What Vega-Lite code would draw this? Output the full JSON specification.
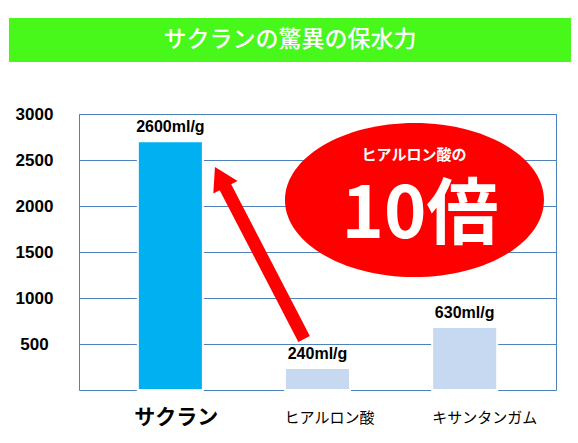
{
  "$schema": "https://vega.github.io/schema/vega-lite/v6.json",
  "background": "white",
  "padding": {"left": 8, "top": 18, "right": 8, "bottom": 0},
  "spacing": 42,
  "config": {"view": {"stroke": null}, "font": "Noto Sans CJK JP"},
  "vconcat": [
    {
      "width": 477,
      "height": 44,
      "layer": [
        {
          "data": {"values": [{"band": "title"}]},
          "mark": {"type": "rect", "color": "#47f81a", "clip": false},
          "encoding": {
            "x": {"datum": -0.1468, "type": "quantitative", "scale": {"domain": [0, 1], "nice": false, "zero": false}, "axis": null},
            "x2": {"datum": 1.0314},
            "y": {"datum": 0, "type": "quantitative", "scale": {"domain": [0, 1], "nice": false}, "axis": null},
            "y2": {"datum": 1}
          }
        },
        {
          "data": {"values": [{"title": "サクランの驚異の保水力"}]},
          "mark": {"type": "text", "color": "white", "fontSize": 23, "fontWeight": 500, "font": "Noto Sans CJK JP", "baseline": "middle", "align": "center"},
          "encoding": {
            "text": {"field": "title"},
            "x": {"datum": 0.4423, "type": "quantitative"},
            "y": {"datum": 0.5, "type": "quantitative"}
          }
        }
      ]
    },
    {
      "width": 477,
      "height": 276,
      "view": {"stroke": "#4f81bd", "strokeWidth": 1},
      "resolve": {"scale": {"x": "independent"}},
      "layer": [
        {
          "data": {"values": [
            {"material": "サクラン", "value": 2705, "label": "2600ml/g"},
            {"material": "ヒアルロン酸", "value": 240, "label": "240ml/g"},
            {"material": "キサンタンガム", "value": 685, "label": "630ml/g"}
          ]},
          "encoding": {
            "x": {"field": "material", "type": "nominal", "sort": null,
              "scale": {"paddingInner": 0.558, "paddingOuter": 0.4},
              "axis": {"title": null, "domain": false, "ticks": false, "grid": false, "labelAngle": 0, "labelPadding": 27, "labelBaseline": "middle", "labelColor": "black", "labelOverlap": false, "labelLimit": 300, "labelFont": "Noto Sans CJK JP",
                "labelFontSize": {"condition": {"test": "datum.value === 'サクラン'", "value": 21}, "value": 15},
                "labelFontWeight": {"condition": {"test": "datum.value === 'サクラン'", "value": "bold"}, "value": "normal"},
                "labelOffset": {"condition": [{"test": "datum.value === 'サクラン'", "value": 6}, {"test": "datum.value === 'ヒアルロン酸'", "value": 12}], "value": 20}
              }
            },
            "y": {"field": "value", "type": "quantitative",
              "scale": {"domain": [0, 3000], "nice": false},
              "axis": {"values": [500, 1000, 1500, 2000, 2500, 3000], "format": "d", "title": null, "domain": false, "ticks": false, "labelAlign": "center", "labelBaseline": "middle", "labelPadding": 45, "labelFont": "Liberation Sans", "labelFontSize": 17, "labelFontWeight": "bold", "labelColor": "black", "grid": true, "gridColor": "#4f81bd", "gridWidth": 1, "gridOpacity": 1, "minExtent": 70, "maxExtent": 70}
            }
          },
          "layer": [
            {
              "mark": {"type": "bar", "stroke": "white", "strokeWidth": 2},
              "encoding": {"color": {"field": "material", "type": "nominal", "scale": {"domain": ["サクラン", "ヒアルロン酸", "キサンタンガム"], "range": ["#00b0f0", "#c6d9f1", "#c6d9f1"]}, "legend": null}}
            },
            {
              "mark": {"type": "text", "baseline": "bottom", "dy": -6, "font": "Liberation Sans", "fontSize": 16, "fontWeight": "bold", "color": "black"},
              "encoding": {"text": {"field": "label"}}
            }
          ]
        },
        {
          "data": {"values": [{"pos": 0.606, "value": 1489}]},
          "mark": {"type": "point", "filled": true, "color": "#ff0000", "opacity": 1, "strokeWidth": 0, "size": 37520, "angle": 332.6,
            "shape": "M0,-1L0.141,-0.765L0.067,-0.765L0.067,1L-0.067,1L-0.067,-0.765L-0.141,-0.765Z"},
          "encoding": {
            "x": {"field": "pos", "type": "quantitative", "scale": {"domain": [-0.621, 2.621], "nice": false, "zero": false}, "axis": null},
            "y": {"field": "value", "type": "quantitative"}
          }
        },
        {
          "data": {"values": [{"pos": 1.659, "value": 2065}]},
          "mark": {"type": "point", "filled": true, "color": "#ff0000", "opacity": 1, "strokeWidth": 0, "size": 67081,
            "shape": "M-1,0C-1,-0.3286,-0.5523,-0.595,0,-0.595C0.5523,-0.595,1,-0.3286,1,0C1,0.3286,0.5523,0.595,0,0.595C-0.5523,0.595,-1,0.3286,-1,0Z"},
          "encoding": {
            "x": {"field": "pos", "type": "quantitative", "scale": {"domain": [-0.621, 2.621], "nice": false, "zero": false}, "axis": null},
            "y": {"field": "value", "type": "quantitative"}
          }
        },
        {
          "data": {"values": [{"pos": 1.656, "value": 2550, "t": "ヒアルロン酸の"}]},
          "mark": {"type": "text", "color": "white", "font": "Noto Sans CJK JP", "fontSize": 15, "fontWeight": "bold", "baseline": "middle", "align": "center"},
          "encoding": {
            "x": {"field": "pos", "type": "quantitative", "scale": {"domain": [-0.621, 2.621], "nice": false, "zero": false}, "axis": null},
            "y": {"field": "value", "type": "quantitative"},
            "text": {"field": "t"}
          }
        },
        {
          "data": {"values": [{"pos": 1.697, "value": 1890, "t": "10倍"}]},
          "mark": {"type": "text", "color": "white", "font": "Noto Sans CJK JP", "fontSize": 72, "fontWeight": "bold", "baseline": "middle", "align": "center"},
          "encoding": {
            "x": {"field": "pos", "type": "quantitative", "scale": {"domain": [-0.621, 2.621], "nice": false, "zero": false}, "axis": null},
            "y": {"field": "value", "type": "quantitative"},
            "text": {"field": "t"}
          }
        }
      ]
    }
  ]
}
